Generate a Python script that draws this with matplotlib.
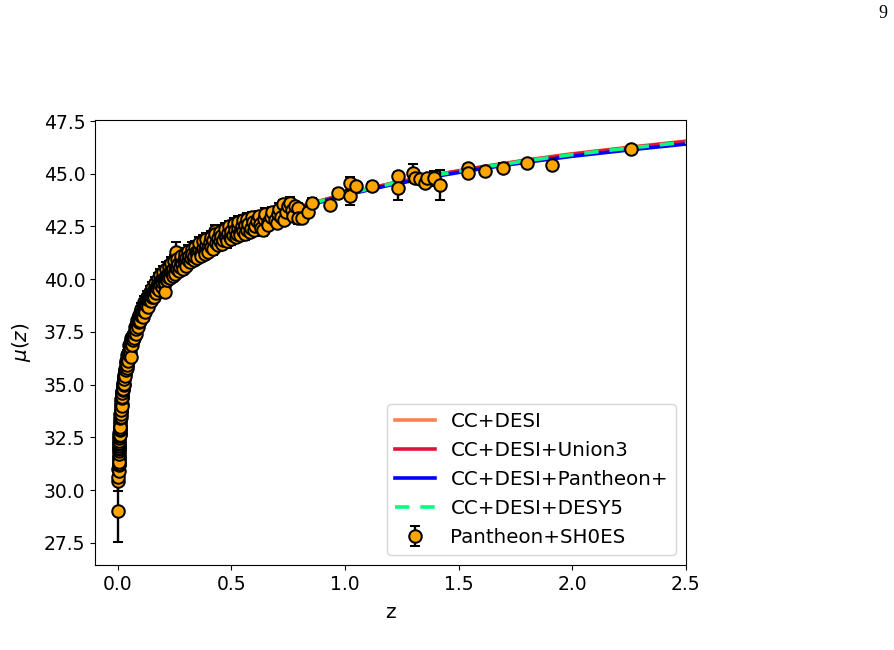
"""Distance modulus: Pantheon+SH0ES points against CC+DESI model curves."""
import matplotlib
matplotlib.use("Agg")
import matplotlib.pyplot as plt
import numpy as np

# --- Pantheon+SH0ES points ---
# calibrator / very low z
z_a = [0.0012, 0.0030, 0.0032, 0.0035, 0.0036, 0.0040, 0.0042, 0.0044, 0.0046, 0.0048,
       0.0050, 0.0053, 0.0056, 0.0058, 0.0060, 0.0063, 0.0066, 0.0068, 0.0069, 0.0073,
       0.0075, 0.0076, 0.0080, 0.0083, 0.0085, 0.0087, 0.0091, 0.0093, 0.0095, 0.0098]
mu_a = [29.03, 30.45, 30.60, 31.00, 30.90, 31.20, 31.25, 31.50, 31.40, 31.55,
        31.35, 31.70, 31.85, 31.95, 32.00, 32.10, 32.20, 32.25, 32.35, 32.45,
        32.70, 32.55, 32.65, 32.75, 32.60, 32.85, 32.95, 33.20, 33.00, 32.90]
err_a = [1.48, 0.50, 0.20, 0.22, 0.15, 0.20, 0.15, 0.25, 0.18, 0.15,
         0.22, 0.20, 0.15, 0.17, 0.24, 0.15, 0.20, 0.22, 0.15, 0.16,
         0.25, 0.18, 0.15, 0.17, 0.22, 0.15, 0.16, 0.24, 0.15, 0.20]

# 0.01 < z < 0.1
z_b = [0.0102, 0.0108, 0.0110, 0.0115, 0.0121, 0.0125, 0.0126, 0.0133, 0.0139, 0.0140,
       0.0146, 0.0152, 0.0155, 0.0160, 0.0168, 0.0170, 0.0175, 0.0183, 0.0185, 0.0190,
       0.0198, 0.0200, 0.0207, 0.0216, 0.0220, 0.0225, 0.0235, 0.0240, 0.0246, 0.0258,
       0.0260, 0.0270, 0.0280, 0.0282, 0.0295, 0.0300, 0.0308, 0.0320, 0.0330, 0.0335,
       0.0350, 0.0360, 0.0365, 0.0380, 0.0390, 0.0398, 0.0415, 0.0420, 0.0435, 0.0455,
       0.0460, 0.0475, 0.0495, 0.0500, 0.0520, 0.0540, 0.0545, 0.0570, 0.0575, 0.0580,
       0.0600, 0.0620, 0.0630, 0.0660, 0.0690, 0.0700, 0.0720, 0.0750, 0.0755, 0.0790,
       0.0800, 0.0825, 0.0850, 0.0860, 0.0900, 0.0900, 0.0940, 0.0950, 0.0980, 0.0990]
mu_b = [33.05, 33.30, 33.00, 33.40, 33.60, 33.75, 33.45, 33.75, 33.95, 33.60,
        33.80, 34.05, 34.30, 34.20, 34.10, 34.00, 34.35, 34.50, 34.70, 34.40,
        34.65, 34.40, 34.60, 34.85, 35.00, 34.75, 35.00, 34.80, 35.10, 35.00,
        35.35, 35.30, 35.05, 35.25, 35.45, 35.70, 35.60, 35.50, 35.40, 35.75,
        35.85, 36.10, 35.70, 36.05, 35.80, 36.10, 35.95, 36.40, 36.30, 36.35,
        36.10, 36.50, 36.40, 36.90, 36.70, 36.50, 36.80, 36.33, 36.95, 37.20,
        37.00, 36.90, 37.15, 37.10, 37.35, 37.20, 37.45, 37.75, 37.50, 37.70,
        37.40, 37.65, 38.05, 37.90, 38.00, 37.75, 37.95, 38.30, 38.20, 38.00]
err_b = [0.20, 0.18, 0.25, 0.20, 0.17, 0.22, 0.19, 0.18, 0.20, 0.24,
         0.17, 0.18, 0.22, 0.19, 0.18, 0.25, 0.20, 0.17, 0.22, 0.19,
         0.18, 0.24, 0.17, 0.19, 0.22, 0.18, 0.17, 0.25, 0.18, 0.19,
         0.22, 0.17, 0.24, 0.18, 0.17, 0.22, 0.19, 0.18, 0.25, 0.17,
         0.18, 0.22, 0.19, 0.17, 0.24, 0.18, 0.17, 0.22, 0.18, 0.19,
         0.25, 0.17, 0.18, 0.22, 0.17, 0.24, 0.18, 0.20, 0.17, 0.22,
         0.18, 0.25, 0.19, 0.17, 0.18, 0.22, 0.17, 0.24, 0.19, 0.18,
         0.22, 0.17, 0.25, 0.18, 0.19, 0.22, 0.17, 0.24, 0.18, 0.22]

# 0.1 < z < 0.4
z_c = [0.102, 0.104, 0.105, 0.108, 0.110, 0.111, 0.114, 0.116, 0.117, 0.120,
       0.122, 0.123, 0.126, 0.128, 0.129, 0.132, 0.134, 0.135, 0.138, 0.140,
       0.141, 0.144, 0.146, 0.147, 0.150, 0.152, 0.153, 0.156, 0.158, 0.159,
       0.162, 0.164, 0.165, 0.168, 0.170, 0.171, 0.174, 0.176, 0.177, 0.180,
       0.182, 0.184, 0.188, 0.188, 0.192, 0.194, 0.196, 0.200, 0.200, 0.204,
       0.206, 0.207, 0.208, 0.212, 0.212, 0.216, 0.218, 0.220, 0.224, 0.225,
       0.230, 0.230, 0.235, 0.236, 0.240, 0.242, 0.245, 0.248, 0.250, 0.254,
       0.255, 0.258, 0.260, 0.262, 0.266, 0.270, 0.272, 0.278, 0.278, 0.284,
       0.286, 0.290, 0.294, 0.296, 0.302, 0.302, 0.308, 0.310, 0.315, 0.318,
       0.322, 0.326, 0.329, 0.334, 0.336, 0.342, 0.343, 0.350, 0.350, 0.358,
       0.358, 0.366, 0.366, 0.374, 0.374, 0.382, 0.382, 0.390, 0.390, 0.398,
       0.398]
mu_c = [38.25, 38.60, 38.45, 38.35, 38.20, 38.55, 38.50, 38.90, 38.75, 38.60,
        38.45, 38.85, 38.80, 39.15, 38.95, 38.85, 38.70, 39.05, 39.00, 39.40,
        39.20, 39.10, 38.95, 39.30, 39.15, 39.60, 39.35, 39.30, 39.15, 39.50,
        39.40, 39.80, 39.55, 39.45, 39.35, 39.70, 39.60, 40.00, 39.75, 39.65,
        39.50, 39.85, 39.75, 40.20, 39.95, 39.65, 39.85, 40.05, 40.35, 39.90,
        39.80, 39.40, 40.10, 40.00, 40.50, 40.20, 39.95, 40.10, 40.60, 40.30,
        40.20, 40.05, 40.40, 40.75, 40.30, 40.15, 40.50, 40.85, 40.40, 40.25,
        40.60, 41.30, 40.50, 40.95, 40.70, 40.40, 40.60, 40.80, 41.10, 40.70,
        40.50, 40.90, 41.20, 40.80, 41.00, 40.65, 40.90, 41.35, 41.10, 40.80,
        41.00, 41.45, 41.20, 40.90, 41.10, 41.55, 41.30, 41.20, 41.00, 41.40,
        41.70, 41.30, 41.10, 41.50, 41.80, 41.40, 41.20, 41.60, 41.90, 41.50,
        41.30]
err_c = [0.18, 0.25, 0.17, 0.19, 0.22, 0.18, 0.17, 0.30, 0.19, 0.18,
         0.24, 0.20, 0.17, 0.28, 0.18, 0.19, 0.22, 0.17, 0.18, 0.30,
         0.20, 0.17, 0.24, 0.18, 0.19, 0.28, 0.17, 0.18, 0.22, 0.20,
         0.17, 0.30, 0.18, 0.19, 0.24, 0.17, 0.18, 0.28, 0.20, 0.17,
         0.22, 0.18, 0.19, 0.30, 0.17, 0.24, 0.18, 0.20, 0.28, 0.17,
         0.22, 0.20, 0.18, 0.19, 0.30, 0.17, 0.24, 0.18, 0.28, 0.20,
         0.17, 0.22, 0.18, 0.30, 0.19, 0.24, 0.17, 0.28, 0.18, 0.22,
         0.20, 0.45, 0.18, 0.30, 0.19, 0.24, 0.17, 0.18, 0.28, 0.20,
         0.22, 0.17, 0.30, 0.18, 0.19, 0.24, 0.17, 0.28, 0.18, 0.22,
         0.20, 0.30, 0.17, 0.24, 0.18, 0.28, 0.19, 0.17, 0.22, 0.20,
         0.30, 0.18, 0.24, 0.17, 0.28, 0.19, 0.22, 0.18, 0.30, 0.17,
         0.24]

# 0.4 < z < 0.85
z_d = [0.405, 0.410, 0.412, 0.420, 0.420, 0.427, 0.430, 0.432, 0.440, 0.440,
       0.448, 0.450, 0.455, 0.460, 0.462, 0.470, 0.470, 0.478, 0.480, 0.485,
       0.490, 0.492, 0.500, 0.500, 0.508, 0.510, 0.515, 0.520, 0.523, 0.530,
       0.530, 0.538, 0.540, 0.545, 0.550, 0.552, 0.560, 0.560, 0.568, 0.570,
       0.575, 0.580, 0.585, 0.590, 0.595, 0.600, 0.605, 0.615, 0.620, 0.625,
       0.630, 0.640, 0.645, 0.650, 0.660, 0.660, 0.675, 0.680, 0.690, 0.700,
       0.705, 0.710, 0.720, 0.728, 0.730, 0.740, 0.750, 0.757, 0.765, 0.770,
       0.780, 0.794, 0.794, 0.810]
mu_d = [41.75, 42.00, 41.55, 41.85, 41.45, 42.30, 42.15, 41.70, 41.95, 41.60,
        41.80, 42.25, 42.05, 41.65, 41.85, 42.10, 42.40, 41.95, 41.80, 42.20,
        42.50, 42.00, 42.30, 41.90, 42.10, 42.60, 42.35, 42.00, 42.15, 42.45,
        42.70, 42.25, 42.10, 42.50, 42.80, 42.30, 42.55, 42.15, 42.35, 42.85,
        42.60, 42.25, 42.45, 42.95, 42.70, 42.35, 42.50, 42.75, 43.00, 42.60,
        42.45, 42.35, 42.85, 43.10, 42.70, 42.55, 42.95, 43.20, 42.80, 42.65,
        43.10, 43.35, 42.95, 43.57, 42.80, 43.20, 43.45, 43.60, 43.30, 43.00,
        43.45, 43.40, 42.89, 42.90]
err_d = [0.20, 0.28, 0.22, 0.18, 0.30, 0.25, 0.24, 0.20, 0.22, 0.28,
         0.18, 0.30, 0.25, 0.24, 0.20, 0.22, 0.28, 0.18, 0.30, 0.25,
         0.24, 0.20, 0.22, 0.28, 0.18, 0.30, 0.25, 0.24, 0.20, 0.22,
         0.28, 0.18, 0.30, 0.25, 0.24, 0.20, 0.22, 0.28, 0.18, 0.30,
         0.25, 0.24, 0.20, 0.22, 0.28, 0.18, 0.30, 0.25, 0.24, 0.20,
         0.22, 0.28, 0.18, 0.30, 0.25, 0.24, 0.20, 0.22, 0.28, 0.18,
         0.30, 0.25, 0.24, 0.20, 0.22, 0.28, 0.18, 0.30, 0.25, 0.24,
         0.20, 0.22, 0.25, 0.22]

# high z
z_e = [0.838, 0.853, 0.933, 0.970, 1.020, 1.020, 1.050, 1.120, 1.234, 1.234,
       1.300, 1.310, 1.330, 1.350, 1.360, 1.390, 1.417, 1.542, 1.542, 1.615,
       1.696, 1.800, 1.909, 2.260]
mu_e = [43.20, 43.63, 43.52, 44.10, 44.55, 43.96, 44.42, 44.44, 44.90, 44.31,
        45.02, 44.78, 44.74, 44.55, 44.80, 44.78, 44.47, 45.26, 45.05, 45.14,
        45.29, 45.50, 45.41, 46.17]
err_e = [0.20, 0.20, 0.20, 0.20, 0.30, 0.45, 0.20, 0.15, 0.20, 0.55,
         0.43, 0.20, 0.20, 0.20, 0.20, 0.36, 0.70, 0.20, 0.20, 0.20,
         0.20, 0.15, 0.20, 0.15]

# --- model curves ---
z_model = [0.005, 0.01, 0.02, 0.03, 0.05, 0.075, 0.1, 0.15, 0.2, 0.3, 0.4, 0.5,
           0.6, 0.7, 0.8, 0.9, 1.0, 1.2, 1.4, 1.6, 1.8, 2.0, 2.25, 2.5]
mu_cc_desi = [31.57, 33.09, 34.61, 35.51, 36.65, 37.58, 38.22, 39.17, 39.87, 40.87,
              41.60, 42.18, 42.67, 43.08, 43.43, 43.75, 44.04, 44.54, 44.96, 45.33, 45.66,
              45.95, 46.26, 46.55]
mu_union3 = [31.57, 33.09, 34.61, 35.51, 36.65, 37.58, 38.22, 39.17, 39.87, 40.87,
             41.60, 42.18, 42.66, 43.07, 43.42, 43.74, 44.03, 44.53, 44.95, 45.32, 45.64,
             45.93, 46.24, 46.53]
mu_pantheon = [31.57, 33.09, 34.61, 35.51, 36.65, 37.57, 38.21, 39.15, 39.85, 40.84,
               41.56, 42.13, 42.61, 43.01, 43.36, 43.68, 43.98, 44.47, 44.88, 45.24, 45.55,
               45.83, 46.13, 46.41]
mu_desy5 = [31.57, 33.09, 34.61, 35.51, 36.65, 37.58, 38.22, 39.16, 39.86, 40.86,
            41.59, 42.17, 42.65, 43.06, 43.41, 43.73, 44.02, 44.52, 44.94, 45.30, 45.62,
            45.91, 46.22, 46.50]


def main() -> None:
    z = np.concatenate([z_a, z_b, z_c, z_d, z_e])
    mu = np.concatenate([mu_a, mu_b, mu_c, mu_d, mu_e])
    err = np.concatenate([err_a, err_b, err_c, err_d, err_e])

    plt.rcParams["font.family"] = "DejaVu Sans"
    plt.rcParams["font.size"] = 13.5
    fig = plt.figure(figsize=(8.95, 6.5), dpi=100)
    ax = fig.add_axes([0.1061, 0.1308, 0.6603, 0.6846])

    ax.plot(z_model, mu_cc_desi, color="coral", lw=2.6, label="CC+DESI")
    ax.plot(z_model, mu_union3, color="crimson", lw=2.6, label="CC+DESI+Union3")
    ax.plot(z_model, mu_pantheon, color="blue", lw=2.6, label="CC+DESI+Pantheon+")
    ax.plot(z_model, mu_desy5, color="springgreen", lw=2.6, ls=(0, (4, 3)), label="CC+DESI+DESY5")
    ax.errorbar(z, mu, yerr=err, fmt="o", color="orange", ecolor="black", mec="black",
                ms=9, mew=1.45, elinewidth=1.7, capsize=3.5, capthick=1.7,
                label="Pantheon+SH0ES")

    ax.set_xlim(-0.1, 2.5)
    ax.set_ylim(26.45, 47.55)
    ax.set_xticks([0.0, 0.5, 1.0, 1.5, 2.0, 2.5])
    ax.set_yticks(np.arange(27.5, 47.6, 2.5))
    ax.set_xlabel("z", fontsize=14.5, labelpad=7)
    ax.set_ylabel(r"$\mu(z)$", fontsize=14.5, labelpad=8)
    ax.legend(loc="lower right", fontsize=14.3)

    fig.text(0.9866, 0.98, "9", ha="center", va="center", family="Liberation Serif", fontsize=13)
    fig.savefig("out.png", dpi=100)
    plt.close(fig)


if __name__ == "__main__":
    main()
